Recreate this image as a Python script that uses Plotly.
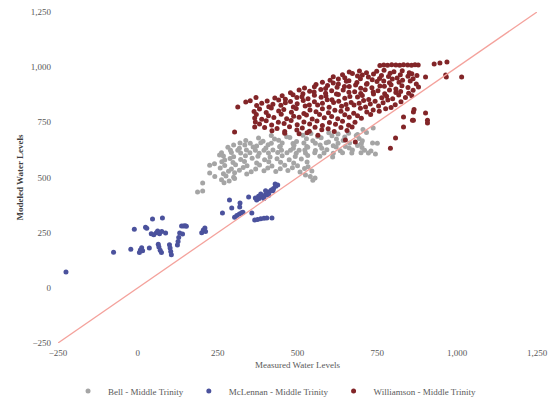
import plotly.graph_objects as go

# ---------------- data ----------------
bell_points = [
    (737,724),(705,718),
    (542,699),(598,703),(627,697),(660,701),(688,695),(716,704),
    (418,690),(466,685),(517,692),(563,686),(608,689),(648,684),(684,690),
    (378,679),(428,675),(476,681),(528,676),(574,680),(622,674),(693,677),
    (338,668),(392,664),(441,669),(497,663),(548,667),(597,661),(643,668),(703,666),
    (320,656),(352,655),(385,657),(418,655),(452,656),(486,654),(520,656),(556,655),
    (590,657),(627,655),(663,656),(700,654),(735,656),(750,655),
    (300,647),(335,647),(372,643),(408,648),(446,642),(489,646),(529,641),(571,647),
    (612,644),(650,640),(688,645),
    (282,637),(318,633),(361,638),(401,634),(444,639),(487,632),(532,637),(576,633),
    (621,638),(662,634),(702,636),
    (290,624),(313,624),(340,625),(368,623),(395,624),(423,625),(450,624),(478,623),
    (505,624),(523,625),(556,622),(592,626),(634,621),(672,625),(710,623),(730,620),
    (256,602),(262,612),(293,613),(322,611),(351,612),(380,610),(409,611),(438,613),
    (467,612),(496,610),(525,611),(554,612),(583,611),(612,610),(641,612),(670,611),
    (699,612),(722,611),(744,606),
    (268,597),(300,594),(337,599),(376,596),(414,593),(452,598),(493,595),(532,600),
    (570,596),(610,593),
    (272,579),(289,586),(322,582),(358,587),(397,581),(436,585),(474,580),(512,584),
    (263,571),(298,568),(334,573),(372,566),(410,571),(447,569),(488,566),(530,570),
    (225,556),(240,562),(272,554),(306,558),(342,553),(381,557),(420,552),(460,556),
    (500,553),(533,549),
    (258,543),(293,539),(330,545),(369,538),(407,543),(446,540),(484,544),(522,541),
    (284,528),(318,533),(355,526),(395,531),(432,527),(470,532),(508,525),(545,530),
    (225,520),(268,517),(303,521),(341,516),
    (241,505),(276,507),(300,501),(525,511),(540,505),(555,498),(548,488),
    (262,490),(286,484),(303,495),
    (203,475),(270,476),(187,434),(203,439),
]

mclennan_points = [
    (-225,72),(-76,161),(-22,175),(-11,265),(5,160),(8,172),(12,182),(15,168),
    (24,275),(28,270),(36,180),(46,312),(42,245),(50,240),(58,250),(62,258),
    (68,245),(75,255),(64,198),(66,185),(70,170),(74,160),(77,316),(87,248),
    (99,195),(101,180),(103,165),(105,150),(124,194),(126,210),(128,228),(131,248),
    (137,280),(143,280),(148,281),(152,279),(140,244),(200,250),(205,262),(210,271),
    (212,255),(265,339),(287,398),(294,362),(303,320),(310,328),(318,335),(325,340),
    (329,343),(319,366),(320,385),(347,412),(357,339),(366,307),(375,310),(385,313),
    (395,315),(404,316),(420,316),(372,398),(380,405),(390,412),(398,420),(405,428),
    (412,435),(418,443),(423,440),(378,415),(395,405),(410,420),(425,450),(432,460),
    (438,466),(400,440),(385,425),(368,407),(430,470),
]

williamson_points = [
    (758,1008),(770,1010),(782,1009),(795,1011),(808,1010),(820,1009),(832,1011),
    (845,1010),(857,1009),(868,1011),(878,1010),
    (928,1014),(946,1019),(968,1023),(964,964),(966,955),(1014,955),(901,955),(879,910),
    (662,978),(694,983),(716,975),(748,981),(771,986),(802,979),(828,984),(850,975),
    (641,966),(672,971),(703,964),(738,969),(763,962),(790,972),(822,966),(858,970),
    (612,957),(648,952),(688,960),(722,955),(757,949),(785,958),(812,951),(846,959),(874,962),
    (602,941),(628,946),(661,939),(697,948),(734,943),(770,937),(797,946),(829,941),(862,948),
    (578,932),(612,928),(653,936),(686,930),(718,926),(749,935),(788,929),(818,932),(853,937),
    (558,922),(594,917),(628,924),(647,912),(682,919),(716,923),(758,915),(793,920),(827,916),(872,924),
    (522,906),(553,911),(588,903),(624,909),(662,912),(698,904),(733,907),(772,913),(808,901),(846,908),
    (505,896),(538,891),(573,899),(607,893),(643,897),(679,889),(712,898),(752,893),(788,897),(823,890),(862,895),
    (478,884),(517,880),(552,887),(588,882),(622,878),(661,886),(698,881),(737,888),(773,879),(808,885),(848,882),
    (452,871),(486,875),(514,866),(553,873),(589,869),(628,876),(664,867),(703,872),(738,878),(779,868),(817,874),(858,870),
    (429,860),(462,855),(498,862),(533,857),(574,864),(608,852),(648,859),(688,865),(723,854),(764,861),(798,857),(838,863),
    (405,847),(441,851),(478,844),(518,849),(553,843),(593,852),(629,846),(668,840),(707,849),(743,845),(783,851),(824,843),
    (388,837),(423,832),(462,839),(499,834),(537,829),(578,836),(613,840),(652,831),(693,837),(728,833),(768,839),(806,830),
    (372,826),(410,821),(448,827),(487,819),(524,824),(563,829),(599,818),(638,823),(677,828),(713,820),(754,824),(793,817),
    (313,819),(381,810),(418,815),(457,808),(496,813),(539,806),(578,812),(617,805),(656,810),(697,814),(737,806),(776,811),(865,808),
    (364,799),(402,794),(441,801),(481,796),(520,790),(558,798),(597,793),(636,800),(676,791),(717,797),(756,800),(901,792),(863,797),
    (371,785),(409,780),(449,787),(488,778),(528,783),(569,786),(607,777),(648,784),(688,780),(729,786),(832,774),
    (366,770),(388,764),(426,772),(466,766),(505,773),(546,765),(584,771),(626,766),(662,773),(700,768),(860,760),(907,760),(863,760),
    (368,751),(402,757),(440,750),(480,758),(520,752),(561,756),(600,749),(641,755),(680,750),
    (366,729),(381,742),(419,738),(458,745),(499,739),(538,743),(578,736),(619,741),(660,737),(907,747),
    (397,727),(436,722),(475,730),(515,724),(555,728),(596,721),(636,727),(671,729),(832,729),
    (420,712),(460,708),(498,715),(537,710),(576,716),(615,709),(655,713),
    (460,701),(505,698),(564,692),(530,703),
    (303,706),(807,679),(681,661),(650,670),(791,633),
    (352,848),(370,862),(338,842),
]

series_names = ["Bell - Middle Trinity", "McLennan - Middle Trinity", "Williamson - Middle Trinity"]
series_colors = ["#A5A5A5", "#4B529D", "#822528"]
line_ends = [-250, 1250]
axis_ticks = [-250, 0, 250, 500, 750, 1000, 1250]

fig = go.Figure()
for name, pts, col in zip(series_names, [bell_points, mclennan_points, williamson_points], series_colors):
    fig.add_trace(go.Scatter(
        x=[p[0] for p in pts], y=[p[1] for p in pts], mode="markers", name=name,
        marker=dict(color=col, size=5, line=dict(width=0)),
    ))

fig.add_trace(go.Scatter(
    x=line_ends, y=line_ends, mode="lines", showlegend=False,
    line=dict(color="#F4A29C", width=1.3), hoverinfo="skip",
))

font_family = "Liberation Serif, Times New Roman, serif"
fig.update_layout(
    width=549, height=400,
    margin=dict(l=58, r=12, t=12, b=57, autoexpand=False),
    paper_bgcolor="white", plot_bgcolor="white",
    font=dict(family=font_family, size=9, color="#595959"),
    showlegend=True,
    legend=dict(orientation="h", x=0.021, xanchor="left", y=-0.145, yanchor="middle",
                font=dict(size=9, color="#595959"), itemwidth=30, tracegroupgap=0),
    xaxis=dict(range=[-250, 1250], tickvals=axis_ticks, tickformat=",", automargin=False,
               showgrid=False, zeroline=False, showline=False, ticks="", ticklabelstandoff=3,
               title=dict(text="Measured Water Levels", font=dict(size=9, color="#595959"), standoff=4)),
    yaxis=dict(range=[-250, 1250], tickvals=axis_ticks, tickformat=",", automargin=False,
               showgrid=False, zeroline=False, showline=False, ticks="", ticklabelstandoff=6,
               title=dict(text="<b>Modeled Water Levels</b>", font=dict(size=9, color="#404040"), standoff=5)),
)

fig.write_html("out.html", config={"displayModeBar": False},
               post_script="document.body.style.margin='0';")
